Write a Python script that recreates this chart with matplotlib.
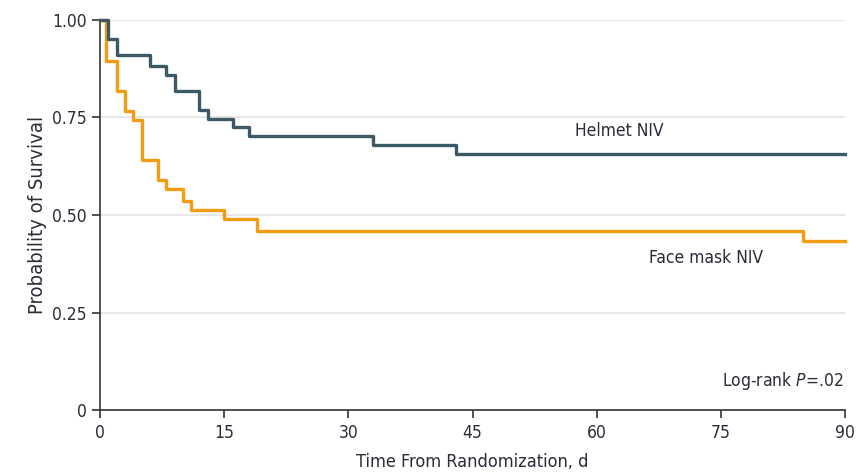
import matplotlib
matplotlib.use("Agg")
import matplotlib.pyplot as plt

plt.rcParams['font.family'] = ['DejaVu Sans']
plt.rcParams['font.stretch'] = 'condensed'

# Kaplan-Meier step data (day, survival after the step)
helmet_days = [0, 1, 2, 6, 8, 9, 12, 13, 16, 18, 33, 43, 90]
helmet_surv = [1.00, 0.95, 0.91, 0.882, 0.859, 0.818, 0.768, 0.745, 0.725, 0.703, 0.679, 0.656, 0.656]

mask_days = [0, 0.7, 2, 3, 4, 5, 7, 8, 10, 11, 15, 19, 85, 90]
mask_surv = [1.00, 0.895, 0.818, 0.767, 0.744, 0.641, 0.59, 0.566, 0.537, 0.513, 0.489, 0.459, 0.434, 0.434]

x_ticks = [0, 15, 30, 45, 60, 75, 90]
y_ticks = [0, 0.25, 0.50, 0.75, 1.00]
y_labels = ['0', '0.25', '0.50', '0.75', '1.00']

HELMET = '#3b5a66'
MASK = '#f39c0f'
TEXT = '#2b2b3a'

fig = plt.figure(figsize=(8.56, 4.73), dpi=100)
ax = fig.add_axes([0.117, 0.133, 0.870, 0.825])

ax.step(mask_days, mask_surv, where='post', color=MASK, lw=2.4, clip_on=False, zorder=3)
ax.step(helmet_days, helmet_surv, where='post', color=HELMET, lw=2.4, clip_on=False, zorder=4)

ax.set_xlim(0, 90)
ax.set_ylim(0, 1)
ax.set_xticks(x_ticks)
ax.set_yticks(y_ticks)
ax.set_yticklabels(y_labels)
ax.grid(axis='y', color='#e3e3e3', lw=1.2)
ax.set_axisbelow(True)

for s in ['top', 'right']:
    ax.spines[s].set_visible(False)
for s in ['left', 'bottom']:
    ax.spines[s].set_color('#333333')
    ax.spines[s].set_linewidth(1.2)
ax.tick_params(direction='out', length=6, width=1.2, color='#333333',
               labelsize=12.5, labelcolor=TEXT)
ax.tick_params(axis='x', pad=4)

ax.set_xlabel('Time From Randomization, d', fontsize=13, color=TEXT, labelpad=8)
ax.set_ylabel('Probability of Survival', fontsize=14.5, color=TEXT, labelpad=4)

ax.text(62.8, 0.715, 'Helmet NIV', fontsize=12.5, color=TEXT, ha='center', va='center')
ax.text(73.2, 0.39, 'Face mask NIV', fontsize=12.5, color=TEXT, ha='center', va='center')
ax.text(89.8, 0.074, 'Log-rank $P$=.02', fontsize=12.5, color=TEXT, ha='right', va='center')

fig.savefig('out.png', dpi=100)
